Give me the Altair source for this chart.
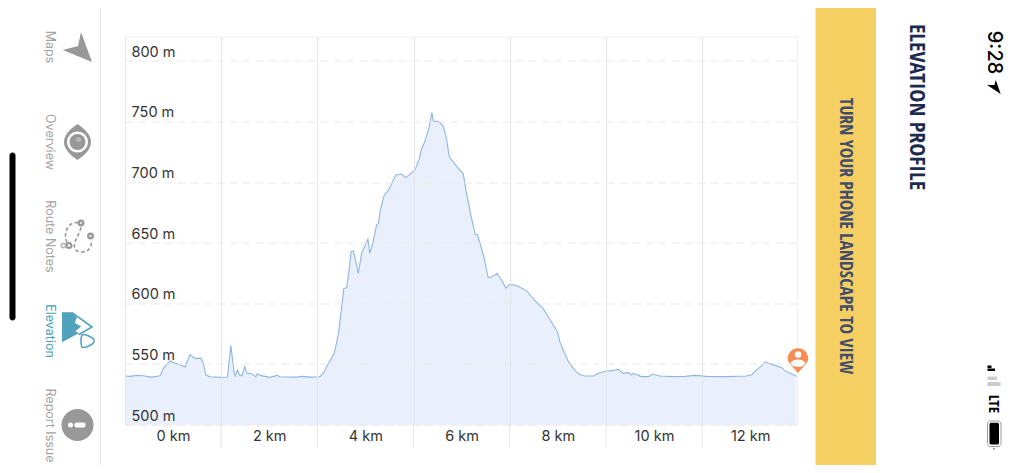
import altair as alt
import pandas as pd

# Elevation trace
km = [0,.10,.24,.38,.55,.73,.80,.87,.94,1.0,1.11,1.25,1.35,1.46,1.58,1.63,1.68,1.77,1.98,2.13,2.20,2.27,2.29,2.34,2.38,2.43,2.49,2.54,2.63,2.72,2.75,2.81,3.01,3.17,3.22,3.57,3.67,3.85,4.05,
      4.12,4.23,4.35,4.44,4.48,4.55,4.61,4.66,4.70,4.75,4.85,4.92,5.05,5.09,5.15,5.23,5.27,5.30,5.39,5.47,5.63,5.75,5.84,6.03,6.11,6.17,6.22,6.31,6.38,6.41,6.53,6.62,6.69,6.74,6.79,6.93,7.03,7.10,7.19,7.28,7.33,7.45,7.55,7.62,7.73,7.83,7.92,7.99,8.14,8.36,8.49,8.70,8.84,8.99,9.04,9.11,9.22,9.32,9.43,
      9.56,9.74,9.84,9.98,10.12,10.26,10.36,10.47,10.53,10.57,10.65,10.73,10.88,10.96,11.12,11.4,11.64,11.85,12.09,12.51,12.92,13.03,13.13,13.24,13.31,13.41,13.65,13.72,13.86,13.96]
elev = [540,539.7,540.5,540.2,539.1,540.2,546.3,549.6,552.6,551.2,549.8,547.4,557.5,554.5,554.5,550.4,540.8,539.4,538.9,539.1,565.3,542.2,540.2,544.9,540.8,540.2,547.6,542.2,541.9,539.4,541.9,540.5,538.9,540.5,539.4,539.1,539.7,539.1,539.4,
        542.1,550.4,558.7,575.1,588.9,612.3,612.8,627.4,642.5,643.1,624.6,641.1,653,641.1,649.4,664.5,665.9,675.5,689.3,692.6,705.8,706.6,703.6,709.9,718.2,727.8,731.9,742.9,757.2,750.3,749.8,745.7,734.6,720.9,718.2,711.3,707.2,690.7,672.8,656.8,656.3,639.8,621.4,621.4,624.6,619.2,612.3,615.6,614.7,610,603.5,595.2,586.2,576.5,568.3,561.4,551.8,546.3,541.6,
        540,540,542.2,543.9,544.4,545.5,542.2,542.8,540.8,542.2,541.1,539.5,539.5,541.4,540,539.5,539.7,540.5,539.7,539.5,540,541.1,545,548.5,551.5,550.2,546.9,544.4,541.6,539.7]
x_ticks = [0, 2, 4, 6, 8, 10, 12]
inner_ticks = [2, 4, 6, 8, 10, 12]
y_ticks = [500, 550, 600, 650, 700, 750, 800]

# Plot area position on the page
OX, OY = 125.0, 36.5
W, H = 672, 388


def px(v):
    return alt.value(v - OX)


def py(v):
    return alt.value(v - OY)


ONE = pd.DataFrame({"a": [0]})


def rect(x0, x1, y0, y1, color, radius=0, **kw):
    return alt.Chart(ONE).mark_rect(fill=color, cornerRadius=radius, **kw).encode(
        x=px(x0), x2=px(x1), y=py(y0), y2=py(y1))


def text(s, x, y, size, color, font="Inter", weight=400, angle=90, **kw):
    return alt.Chart(pd.DataFrame({"t": [s]})).mark_text(
        font=font, fontSize=size, fontWeight=weight, color=color, angle=angle,
        align="center", baseline="middle", **kw
    ).encode(x=px(x), y=py(y), text="t:N")


def icon(path, cx, cy, half, fill=None, stroke=None, sw=1.5, dash=None):
    kw = {"shape": path, "size": (2 * half) ** 2, "opacity": 1}
    if fill:
        kw.update(filled=True, fill=fill, strokeWidth=0)
    else:
        kw.update(filled=False, fill="transparent", stroke=stroke, strokeWidth=sw)
        if dash:
            kw["strokeDash"] = dash
    return alt.Chart(ONE).mark_point(**kw).encode(x=px(cx), y=py(cy))


def dot(cx, cy, d, color):
    return alt.Chart(ONE).mark_point(shape="circle", filled=True, fill=color, opacity=1,
                                     strokeWidth=0, size=d ** 2).encode(x=px(cx), y=py(cy))


GRAY = "#989898"
TEAL = "#4fa3bd"
COND = "Open Sans Condensed"

base = alt.Chart(pd.DataFrame({"km": km, "elev": elev}))
x_enc = alt.X("km:Q", scale=alt.Scale(domain=[0, W / 48.1], nice=False), title=None,
              axis=alt.Axis(values=x_ticks, labelExpr="datum.value + ' km'", labelOffset=48,
                            labelPadding=5, labelFont="Inter", labelFontSize=14.5, labelColor="#333333",
                            labelAngle=0, labelAlign="center", labelBaseline="top",
                            ticks=False, domain=False, grid=True, gridColor="#e1e5ec", gridWidth=1,
                            zindex=1))
y_enc = alt.Y("elev:Q", scale=alt.Scale(domain=[500, 820], nice=False, zero=False), title=None,
              axis=alt.Axis(values=y_ticks, labelExpr="datum.value + ' m'", labelAlign="left",
                            labelBaseline="middle", labelOffset=-8.5, labelPadding=-6, labelFont="Inter",
                            labelFontSize=14.5, labelColor="#333333", ticks=False, domain=False,
                            grid=True, gridColor="#e9e9e9", gridDash=[8, 5], gridWidth=1, zindex=1))

area = base.mark_area(fill="#dfe8f9", opacity=0.65, clip=True).encode(x=x_enc, y=y_enc)
line = base.mark_line(color="#8cb6e2", strokeWidth=1.1).encode(x="km:Q", y="elev:Q")
ticks = alt.Chart(pd.DataFrame({"km": inner_ticks})).mark_rule(color="#e1e5ec").encode(
    x="km:Q", y=alt.value(H), y2=alt.value(411.5))

layers = [
    area, line, ticks,
    # sidebar
    rect(100, 101, 0, 473, "#e6e6e6"),
    rect(9.5, 15.5, 152.5, 320.5, "#000000", radius=3),
    text("Maps", 49.5, 47, 12.5, "#a3a3a3"),
    text("Overview", 49.5, 142, 12.5, "#a3a3a3"),
    text("Route Notes", 49.5, 236.5, 12.5, "#a3a3a3"),
    text("Elevation", 49.5, 331, 12.5, "#3fa0b8"),
    text("Report Issue", 49.5, 425.5, 12.5, "#a3a3a3"),
    # maps arrow
    icon("M-.95,.2L.07,-.07L.27,-1L1,1Z", 77, 47, 15, fill=GRAY),
    # eye
    icon("M0,-1C.35,-.75 .75,-.45 .75,0C.75,.45 .35,.75 0,1C-.35,.75 -.75,.45 -.75,0C-.75,-.45 -.35,-.75 0,-1Z",
         77.5, 142, 18, fill=GRAY),
    dot(77.5, 142, 21, "#ffffff"),
    dot(77.5, 142, 16, GRAY),
    dot(78.5, 139.5, 5, "#b8b8b8"),
    # route notes
    icon("M-.63,.35C-.85,-.2 -.65,-.9 .05,-.92M.25,-.6C.15,-.1 -.35,.4 -.1,.8C.2,1.05 .9,1 .9,.3",
         77, 237, 16, stroke="#9a9a9a", sw=1.7, dash=[3.5, 2.5]),
    dot(81, 223, 7, "#9a9a9a"), dot(81, 223, 2.5, "#dddddd"),
    dot(90.5, 236, 7, "#9a9a9a"), dot(90.5, 236, 2.5, "#dddddd"),
    dot(69, 245.5, 7, "#9a9a9a"), dot(69, 245.5, 2.5, "#ffffff"),
    dot(63.5, 245.5, 6, "#b5b5b5"), dot(63.5, 245.5, 2.5, "#ffffff"),
    # elevation mountain
    icon("M-1,-1L-.35,-1L.0,-.65L-.15,-.3L.28,-.05L-.1,.25L.12,.4L-1,1Z", 77, 327.3, 15, fill=TEAL),
    icon("M-.35,-1L1,-.02L.1,.5", 77, 327.3, 15, stroke=TEAL, sw=1.6),
    icon("M-.75,-.9C-.2,-1 1,-.4 .95,0C1,.4 -.2,1 -.75,.9C-1,.6 -1,-.6 -.75,-.9Z", 87.5, 341, 7, stroke=TEAL, sw=1.5),
    # report issue
    dot(77.5, 425, 32, GRAY),
    dot(70.5, 425, 5, "#ffffff"),
    rect(74.5, 85.5, 422.5, 427.5, "#ffffff", radius=2),
    # banner and header
    rect(815.5, 876, 0, 473, "#f6cf63"),
    text("TURN YOUR PHONE LANDSCAPE TO VIEW", 844.5, 236, 17.7, "#3f4c6c", font=COND, weight=700),
    text("ELEVATION PROFILE", 917, 107, 22, "#1d2a50", font=COND, weight=700),
    # status bar
    text("9:28", 993.5, 52.5, 20, "#000000", weight=500),
    icon("M-.95,-.3L.1,-.3L.3,-1L1,1Z", 993.7, 87, 7, fill="#000000"),
    rect(987.5, 991.5, 365.5, 368, "#000000"),
    rect(987.5, 995, 368.5, 371, "#000000"),
    rect(987.5, 997, 376.5, 380, "#cccccc"),
    rect(987.5, 1000.5, 382, 386, "#cccccc"),
    text("LTE", 993.5, 404, 15, "#000000", font=COND, weight=400),
    alt.Chart(ONE).mark_rect(fill="#ffffff", stroke="#9a9a9a", strokeWidth=1, cornerRadius=3).encode(
        x=px(987.5), x2=px(1001), y=py(421), y2=py(446.5)),
    rect(989.5, 999, 422.8, 444.5, "#000000", radius=1.5),
    rect(993, 995, 448, 449.5, "#9a9a9a"),
    # position pin
    icon("M0,1C-.25,.6 -.82,.25 -.82,-.17C-.82,-.62 -.45,-1 0,-1C.45,-1 .82,-.62 .82,-.17C.82,.25 .25,.6 0,1Z",
         798, 360.7, 12.5, fill="#fb8a50"),
    dot(798, 354.5, 6.5, "#ffffff"),
    icon("M-1,0C-1,-.7 1,-.7 1,0C1,.7 -1,.7 -1,0Z", 798, 363.2, 7, fill="#ffffff"),
]

chart = alt.layer(*layers).properties(
    width=W, height=H,
    autosize=alt.AutoSizeParams(type="none"),
    padding={"left": 117, "top": 28.5, "right": 219, "bottom": 40.5},
    background="#ffffff",
).configure_view(stroke="#eef0f3", strokeWidth=1)

chart.save("out.html", embed_options={"renderer": "svg", "actions": False})
